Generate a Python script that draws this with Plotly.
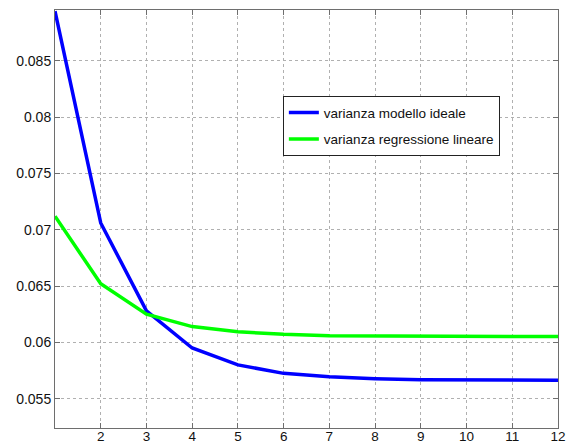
import plotly.graph_objects as go

x_vals = [1, 2, 3, 4, 5, 6, 7, 8, 9, 10, 11, 12]
varianza_ideale = [0.0894, 0.0706, 0.0628, 0.0595, 0.0580, 0.05725, 0.05695, 0.05677, 0.05668, 0.05665, 0.05664, 0.05664]
varianza_regressione = [0.0712, 0.0652, 0.0625, 0.0614, 0.06094, 0.06071, 0.06058, 0.06055, 0.06053, 0.06052, 0.06052, 0.06052]
series_names = ["varianza modello ideale", "varianza regressione lineare"]
x_ticks = [2, 3, 4, 5, 6, 7, 8, 9, 10, 11, 12]
y_ticks = [0.055, 0.06, 0.065, 0.07, 0.075, 0.08, 0.085]
y_ticklabels = ["0.055", "0.06", "0.065", "0.07", "0.075", "0.08", "0.085"]

fig = go.Figure()
fig.add_trace(go.Scatter(x=x_vals, y=varianza_ideale, mode="lines", name=series_names[0],
                         line=dict(color="#0000ff", width=3.5), legendgroup="a"))
fig.add_trace(go.Scatter(x=x_vals, y=varianza_regressione, mode="lines", name=series_names[1],
                         line=dict(color="#00ff00", width=3.5), legendgroup="b"))

axis_common = dict(showline=True, linecolor="#6e6e6e", linewidth=1, mirror="ticks",
                   ticks="inside", ticklen=5, tickcolor="#6e6e6e",
                   showgrid=True, gridcolor="#b0b0b0", griddash="dot", gridwidth=1,
                   zeroline=False, ticklabeloverflow="allow", automargin=False)

fig.update_layout(
    width=566, height=446,
    margin=dict(l=55, r=8, t=10, b=18),
    paper_bgcolor="white", plot_bgcolor="white",
    xaxis=dict(range=[1, 12], tickvals=x_ticks, ticktext=[str(v) for v in x_ticks],
               ticklabelstandoff=-4,
               tickfont=dict(family="Liberation Sans, Arial", size=13.5, color="#111"),
               **axis_common),
    yaxis=dict(range=[0.0524, 0.0895], tickvals=y_ticks, ticktext=y_ticklabels,
               tickfont=dict(family="Liberation Sans, Arial", size=14, color="#111"),
               **axis_common),
    legend=dict(x=0.453, y=0.794, xanchor="left", yanchor="top",
                bgcolor="white", bordercolor="#222", borderwidth=1,
                font=dict(family="Liberation Sans, Arial", size=13.5, color="#111"),
                tracegroupgap=6, itemwidth=30),
    showlegend=True,
)

fig.write_html("out.html")
